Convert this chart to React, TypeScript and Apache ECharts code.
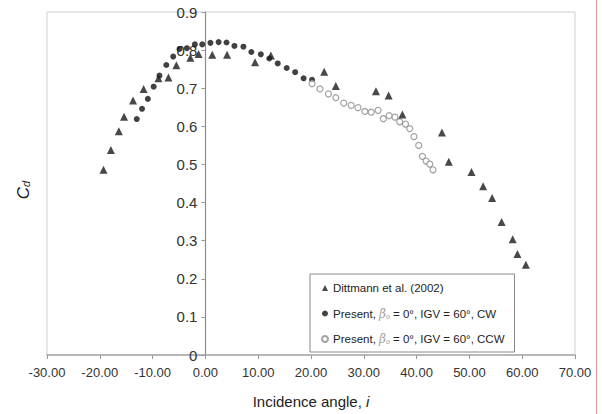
import React, { useEffect, useRef } from "react";
import * as echarts from "echarts";

const dittX = [-19.3, -17.9, -16.4, -15.4, -13.7, -11.7, -8.9, -7.0, -5.5, -2.85, -1.3, 1.3, 4.1, 9.4, 12.4, 22.5, 24.7, 32.3, 34.7, 37.3, 44.8, 46.1, 50.4, 52.6, 54.3, 56.1, 58.2, 59.1, 60.7];
const dittY = [0.486, 0.538, 0.587, 0.625, 0.668, 0.698, 0.726, 0.728, 0.76, 0.78, 0.79, 0.788, 0.788, 0.768, 0.786, 0.743, 0.706, 0.692, 0.681, 0.631, 0.584, 0.507, 0.48, 0.443, 0.412, 0.349, 0.304, 0.265, 0.237];

const cwX = [-13.0, -12.0, -10.9, -9.8, -8.7, -7.4, -6.1, -4.9, -3.5, -2.0, -0.6, 0.95, 2.5, 4.0, 5.5, 7.2, 8.7, 10.5, 12.1, 13.7, 15.4, 17.0, 18.6, 20.2];
const cwY = [0.619, 0.646, 0.672, 0.704, 0.733, 0.761, 0.783, 0.803, 0.805, 0.815, 0.815, 0.819, 0.821, 0.82, 0.811, 0.809, 0.795, 0.789, 0.778, 0.765, 0.753, 0.742, 0.726, 0.722];

const ccwX = [20.2, 21.7, 23.3, 24.7, 26.2, 27.6, 28.9, 30.2, 31.4, 32.7, 33.7, 34.8, 35.9, 36.8, 37.9, 38.7, 39.5, 40.4, 41.1, 41.8, 42.5, 43.1];
const ccwY = [0.712, 0.698, 0.685, 0.675, 0.661, 0.655, 0.649, 0.639, 0.637, 0.642, 0.62, 0.628, 0.624, 0.612, 0.606, 0.594, 0.573, 0.55, 0.521, 0.509, 0.501, 0.486];

const seriesNames = [
  "Dittmann et al. (2002)",
  "Present, βo = 0°, IGV = 60°, CW",
  "Present, βo = 0°, IGV = 60°, CCW",
];

const xMin = -30;
const xMax = 70;
const xStep = 10;
const yMin = 0;
const yMax = 0.9;
const yStep = 0.1;

const FONT = "'Liberation Sans', Arial, sans-serif";

const GRID_LEFT = 47;
const GRID_RIGHT = 27;
const WIDTH = 602;
// offset of the y axis (at x = 0) from the grid's left edge, computed from the x scale
const yAxisOffset = -((0 - xMin) / (xMax - xMin)) * (WIDTH - GRID_LEFT - GRID_RIGHT);

function zip(xs: number[], ys: number[]) {
  return xs.map((x, i) => [x, ys[i]]);
}

export default function App() {
  const ref = useRef<HTMLDivElement>(null);

  useEffect(() => {
    document.body.style.margin = "0";
    if (!ref.current) return;
    const chart = echarts.init(ref.current, null, { renderer: "svg" });
    chart.setOption({
      animation: false,
      backgroundColor: "#ffffff",
      grid: {
        left: GRID_LEFT,
        right: GRID_RIGHT,
        top: 12,
        bottom: 53,
        show: true,
        borderColor: "#cfcfcf",
        borderWidth: 1,
      },
      xAxis: {
        type: "value",
        min: xMin,
        max: xMax,
        interval: xStep,
        axisLine: { onZero: false, lineStyle: { color: "#a8a8a8", width: 1.5 } },
        axisTick: { show: true, inside: false, length: 4, lineStyle: { color: "#999" } },
        splitLine: { show: false },
        axisLabel: {
          margin: 11,
          fontSize: 13,
          fontFamily: FONT,
          color: "#333",
          formatter: (v: number) => v.toFixed(2),
        },
        name: "Incidence angle, {i|i}",
        nameLocation: "middle",
        nameGap: 39,
        nameTextStyle: {
          fontSize: 15,
          fontFamily: FONT,
          color: "#222",
          rich: {
            i: { fontSize: 15, fontFamily: FONT, fontStyle: "italic", color: "#222" },
          },
        },
      },
      yAxis: {
        type: "value",
        position: "left",
        offset: yAxisOffset,
        min: yMin,
        max: yMax,
        interval: yStep,
        axisLine: { show: true, onZero: false, lineStyle: { color: "#8c8c8c", width: 1.2 } },
        axisTick: { show: true, inside: false, length: 4, lineStyle: { color: "#999" } },
        splitLine: { show: false },
        axisLabel: {
          margin: 8,
          fontSize: 15,
          fontFamily: FONT,
          color: "#333",
          formatter: (v: number) => (Math.abs(v) < 1e-9 ? "0" : v.toFixed(1)),
        },
      },
      legend: {
        orient: "vertical",
        left: 310,
        top: 274,
        padding: [8, 10, 7, 11],
        itemGap: 13.5,
        itemWidth: 6,
        itemHeight: 6,
        borderColor: "#8a8a8a",
        borderWidth: 1,
        backgroundColor: "#ffffff",
        data: seriesNames,
        formatter: (name: string) => name.replace("βo", "{b|β}{s|o}"),
        textStyle: {
          fontSize: 11.5,
          fontFamily: FONT,
          color: "#222",
          rich: {
            b: { fontSize: 12, fontStyle: "italic", fontFamily: "'DejaVu Serif', serif", color: "#a0a0a0" },
            s: { fontSize: 7, fontFamily: FONT, color: "#a0a0a0", padding: [5, 0, 0, 0] },
          },
        },
      },
      graphic: [
        {
          type: "text",
          x: 23,
          y: 190,
          rotation: Math.PI / 2,
          style: {
            text: "{c|C}{d|d}",
            align: "center",
            verticalAlign: "middle",
            rich: {
              c: { fontSize: 17, fontStyle: "italic", fontFamily: FONT, fill: "#222" },
              d: { fontSize: 11, fontStyle: "italic", fontFamily: FONT, fill: "#222", padding: [6, 0, 0, 0] },
            },
          },
        },
        {
          type: "line",
          shape: { x1: 596.5, y1: 0, x2: 596.5, y2: 414 },
          style: { stroke: "#f09090", lineWidth: 1 },
        },
      ],
      series: [
        {
          name: seriesNames[0],
          type: "scatter",
          symbol: "triangle",
          symbolSize: 8,
          itemStyle: { color: "#1a1a1a" },
          data: zip(dittX, dittY),
          z: 4,
        },
        {
          name: seriesNames[1],
          type: "scatter",
          symbol: "circle",
          symbolSize: 6,
          itemStyle: { color: "#111111" },
          data: zip(cwX, cwY),
          z: 3,
        },
        {
          name: seriesNames[2],
          type: "scatter",
          symbol: "circle",
          symbolSize: 6,
          itemStyle: { color: "#ffffff", borderColor: "#8a8a8a", borderWidth: 1.2 },
          data: zip(ccwX, ccwY),
          z: 3,
        },
      ],
    });
    return () => chart.dispose();
  }, []);

  return (
    <div
      ref={ref}
      style={{ width: 602, height: 414, position: "absolute", left: 0, top: 0 }}
    />
  );
}
